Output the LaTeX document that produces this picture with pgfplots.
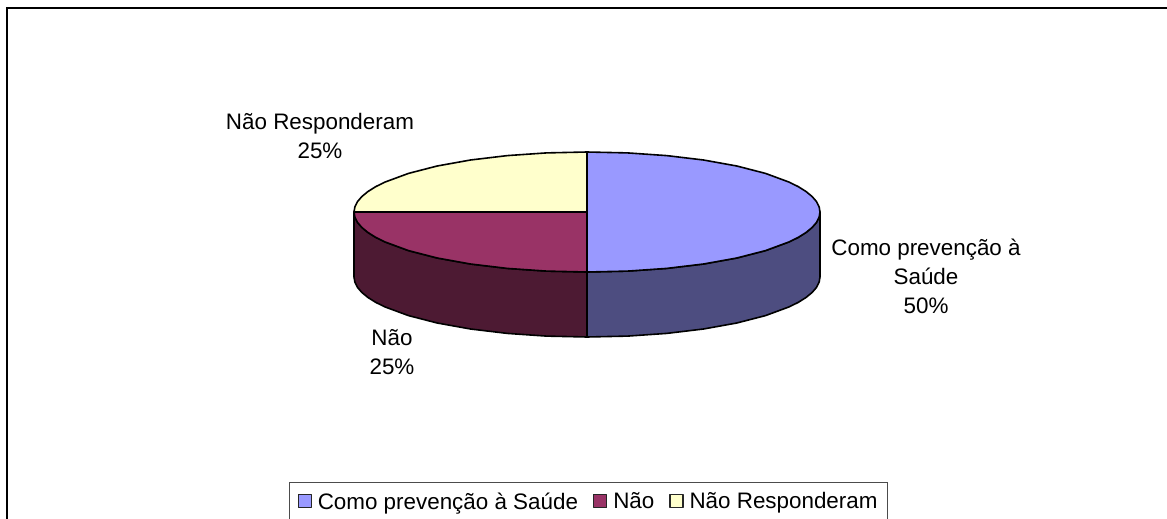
\documentclass[border=0pt]{standalone}
\usepackage{fontspec}
\setmainfont{Liberation Sans}
\usepackage{pgfplots}
\pgfplotsset{compat=1.18}

\definecolor{sliceblue}{HTML}{9999FF}
\definecolor{sideblue}{HTML}{4D4D80}
\definecolor{sliceplum}{HTML}{993366}
\definecolor{sideplum}{HTML}{4D1A33}
\definecolor{sliceyellow}{HTML}{FFFFCC}

\begin{document}
\begin{tikzpicture}
\useasboundingbox (0,0) rectangle (1167pt,519pt);
\begin{axis}[
    at={(0,0)},
    anchor=south west,
    scale only axis,
    width=1167pt,
    height=519pt,
    xmin=0, xmax=1167,
    ymin=0, ymax=519,
    y dir=reverse,
    hide axis,
    legend style={
      at={(289/1167,1-482/519)},
      anchor=north west,
      legend columns=-1,
      draw=black!70,
      line width=1.2pt,
      font=\fontsize{22.4}{24}\selectfont,
      inner xsep=8pt,
      inner ysep=8pt,
      /tikz/every odd column/.append style={column sep=4pt},
      /tikz/every even column/.append style={column sep=13pt},
    },
    legend image code/.code={
      \draw[#1,draw=black!85,line width=1.2pt] (0pt,-6pt) rectangle (13pt,7pt);
    },
]
% outer frame, open on the right and at the bottom
\addplot[forget plot,black,line width=2pt] coordinates {(6.7,519) (6.7,7.7) (1167,7.7)};

% sides of the disc
\addplot[forget plot,fill=sideblue,draw=black,line width=1.6pt,line join=round] coordinates {
  (587,272) (627.5,271.1) (666.7,268.4) (703.5,264) (736.8,258) (765.5,250.6)
  (788.8,242) (798.2,237.4) (806,232.5) (812.1,227.5) (816.5,222.4) (819.1,217.2)
  (820,212) (820,277) (819.1,282.2) (816.5,287.4) (812.1,292.5) (806,297.5)
  (798.2,302.4) (788.8,307) (765.5,315.6) (736.8,323) (703.5,329) (666.7,333.4)
  (627.5,336.1) (587,337)} -- cycle;
\addplot[forget plot,fill=sideplum,draw=black,line width=1.6pt,line join=round] coordinates {
  (587,272) (546.5,271.1) (507.3,268.4) (470.5,264) (437.2,258) (408.5,250.6)
  (385.2,242) (375.8,237.4) (368,232.5) (361.9,227.5) (357.5,222.4) (354.9,217.2)
  (354,212) (354,277) (354.9,282.2) (357.5,287.4) (361.9,292.5) (368,297.5)
  (375.8,302.4) (385.2,307) (408.5,315.6) (437.2,323) (470.5,329) (507.3,333.4)
  (546.5,336.1) (587,337)} -- cycle;

% top slices: 50 %, 25 %, 25 %
\addplot[fill=sliceblue,draw=black,line width=1.6pt,line join=round] coordinates {
  (587,212) (587,152) (627.5,152.9) (666.7,155.6) (703.5,160) (736.8,166)
  (765.5,173.4) (788.8,182) (798.2,186.6) (806,191.5) (812.1,196.5) (816.5,201.6)
  (819.1,206.8) (820,212) (819.1,217.2) (816.5,222.4) (812.1,227.5) (806,232.5)
  (798.2,237.4) (788.8,242) (765.5,250.6) (736.8,258) (703.5,264) (666.7,268.4)
  (627.5,271.1) (587,272)} -- cycle;
\addlegendentry{Como prevenção à Saúde}
\addplot[fill=sliceplum,draw=black,line width=1.6pt,line join=round] coordinates {
  (587,212) (587,272) (546.5,271.1) (507.3,268.4) (470.5,264) (437.2,258)
  (408.5,250.6) (385.2,242) (375.8,237.4) (368,232.5) (361.9,227.5) (357.5,222.4)
  (354.9,217.2) (354,212)} -- cycle;
\addlegendentry{Não}
\addplot[fill=sliceyellow,draw=black,line width=1.6pt,line join=round] coordinates {
  (587,212) (354,212) (354.9,206.8) (357.5,201.6) (361.9,196.5) (368,191.5)
  (375.8,186.6) (385.2,182) (408.5,173.4) (437.2,166) (470.5,160) (507.3,155.6)
  (546.5,152.9) (587,152)} -- cycle;
\addlegendentry{Não Responderam}

\node[align=center,font=\fontsize{22.4}{28.5}\selectfont] at (axis cs:320,136) {Não Responderam\\25\%};
\node[align=center,font=\fontsize{22.4}{29}\selectfont] at (axis cs:392,352) {Não\\25\%};
\node[align=center,font=\fontsize{22.4}{29}\selectfont] at (axis cs:926,276) {Como prevenção à\\Saúde\\50\%};
\end{axis}
\end{tikzpicture}
\end{document}
